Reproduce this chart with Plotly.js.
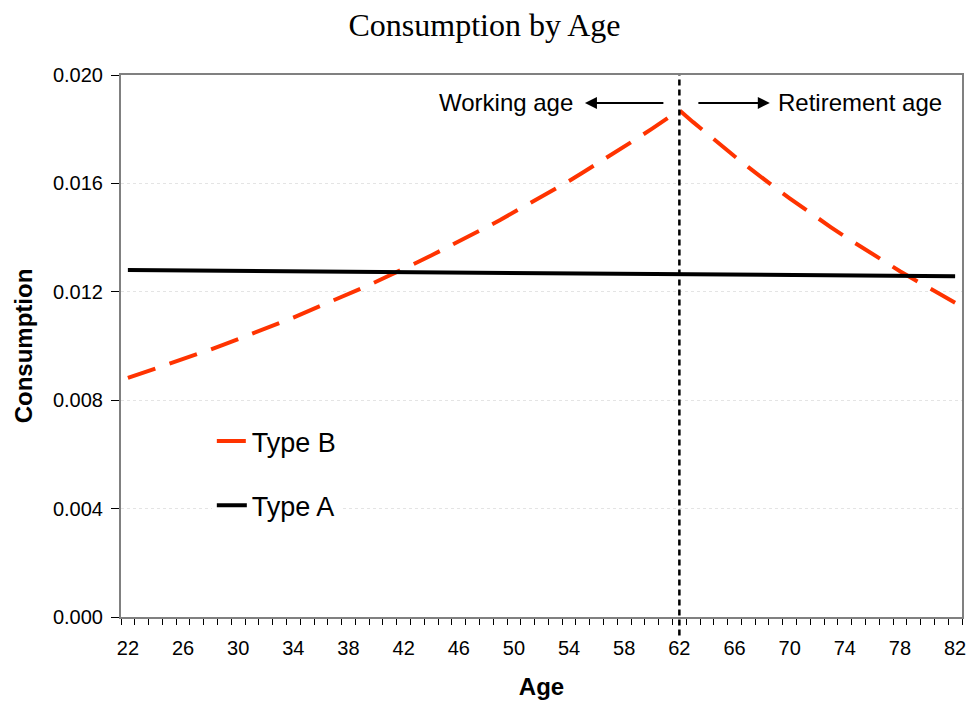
<!DOCTYPE html>
<html>
<head>
<meta charset="utf-8">
<script src="https://cdn.plot.ly/plotly-3.0.1.min.js"></script>
<style>html,body{margin:0;padding:0;background:#fff;}#chart{width:969px;height:705px;}</style>
</head>
<body>
<div id="chart"></div>
<script>
var ages = [22,23,24,25,26,27,28,29,30,31,32,33,34,35,36,37,38,39,40,41,42,43,44,45,46,47,48,49,50,51,52,53,54,55,56,57,58,59,60,61,62,63,64,65,66,67,68,69,70,71,72,73,74,75,76,77,78,79,80,81,82];

var typeB = [0.00882,0.00899,0.00916,0.00933,0.00951,0.00969,0.00987,0.01006,0.01025,0.01045,
             0.01064,0.01085,0.01105,0.01126,0.01147,0.01169,0.01191,0.01214,0.01237,0.01260,
             0.01284,0.01309,0.01334,0.01359,0.01385,0.01411,0.01438,0.01465,0.01493,0.01521,
             0.01550,0.01579,0.01609,0.01640,0.01671,0.01703,0.01735,0.01768,0.01801,0.01836,
             0.01870,0.01826,0.01783,0.01741,0.01700,0.01660,0.01620,0.01582,0.01545,0.01508,
             0.01473,0.01438,0.01404,0.01371,0.01338,0.01307,0.01276,0.01246,0.01216,0.01188,
             0.01160];

var typeA = [0.012800,0.012796,0.012793,0.012789,0.012785,0.012782,0.012778,0.012774,0.012770,0.012767,
             0.012763,0.012759,0.012756,0.012752,0.012748,0.012745,0.012741,0.012737,0.012733,0.012730,
             0.012726,0.012722,0.012719,0.012715,0.012711,0.012708,0.012704,0.012700,0.012696,0.012693,
             0.012689,0.012685,0.012682,0.012678,0.012674,0.012671,0.012667,0.012663,0.012659,0.012656,
             0.012652,0.012648,0.012645,0.012641,0.012637,0.012634,0.012630,0.012626,0.012622,0.012619,
             0.012615,0.012611,0.012608,0.012604,0.012600,0.012597,0.012593,0.012589,0.012585,0.012582,
             0.012578];

var yTicks = [0, 0.004, 0.008, 0.012, 0.016, 0.020];
var yTickText = ["0.000","0.004","0.008","0.012","0.016","0.020"];
var retirementAge = 62;

var sans = "Liberation Sans, Arial, sans-serif";

var traces = [
  {x: ages, y: typeB, type: 'scatter', mode: 'lines', name: 'Type B', legendgroup: 'b',
   line: {color: '#FF3300', width: 4, dash: '29px,15px'}},
  {x: ages, y: typeA, type: 'scatter', mode: 'lines', name: 'Type A', legendgroup: 'a',
   line: {color: '#000000', width: 4}}
];

var layout = {
  width: 969, height: 705,
  paper_bgcolor: '#ffffff', plot_bgcolor: '#ffffff',
  margin: {l: 121, r: 7, t: 75, b: 88},
  title: {text: 'Consumption by Age', x: 0.5, xref: 'container', xanchor: 'center', y: 0.965, yanchor: 'middle',
          font: {family: 'Liberation Serif, Times New Roman, serif', size: 32, color: '#000'}},
  font: {family: sans, color: '#000'},
  showlegend: true,
  legend: {x: 0.108, y: 0.369, xanchor: 'left', yanchor: 'top', bgcolor: '#ffffff',
           font: {family: sans, size: 27, color: '#000'}, tracegroupgap: 26, traceorder: 'grouped'},
  xaxis: {
    range: [21.5, 82.5], tickmode: 'linear', tick0: 22, dtick: 4,
    ticks: '', showgrid: false, zeroline: false, ticklabelstandoff: 12,
    showline: true, linecolor: '#808080', linewidth: 2, mirror: true,
    tickfont: {family: sans, size: 20, color: '#000'},
    minor: {tick0: 21.5, dtick: 1, ticks: 'outside', ticklen: 6, tickcolor: '#000', tickwidth: 1, showgrid: false},
    title: {text: '<b>Age</b>', font: {family: sans, size: 24, color: '#000'}, standoff: 20}
  },
  yaxis: {
    range: [0, 0.020], tickmode: 'array', tickvals: yTicks, ticktext: yTickText,
    ticks: 'outside', ticklen: 8, tickcolor: '#000', tickwidth: 1, ticklabelstandoff: 4,
    showgrid: true, gridcolor: '#e4e4e4', griddash: 'dot', gridwidth: 1,
    zeroline: false, showline: true, linecolor: '#808080', linewidth: 2, mirror: true,
    tickfont: {family: sans, size: 20, color: '#000'},
    title: {text: '<b>Consumption</b>', font: {family: sans, size: 24, color: '#000'}, standoff: 14}
  },
  shapes: [
    {type: 'line', xref: 'x', yref: 'paper', x0: retirementAge, x1: retirementAge, y0: -0.034, y1: 1,
     line: {color: '#000', width: 2.5, dash: '6px,4px'}}
  ],
  annotations: [
    {xref: 'x', yref: 'y', x: 55.15, y: 0.01897, ax: 60.95, ay: 0.01897, axref: 'x', ayref: 'y',
     text: '', showarrow: true, arrowhead: 2, arrowsize: 1.2, arrowwidth: 2, arrowcolor: '#000'},
    {xref: 'x', yref: 'y', x: 68.56, y: 0.01897, ax: 63.27, ay: 0.01897, axref: 'x', ayref: 'y',
     text: '', showarrow: true, arrowhead: 2, arrowsize: 1.2, arrowwidth: 2, arrowcolor: '#000'},
    {xref: 'x', yref: 'y', x: 54.45, y: 0.01897, xanchor: 'right', yanchor: 'middle', showarrow: false,
     text: 'Working age', font: {family: sans, size: 24, color: '#000'}},
    {xref: 'x', yref: 'y', x: 69.0, y: 0.01897, xanchor: 'left', yanchor: 'middle', showarrow: false,
     text: 'Retirement age', font: {family: sans, size: 24, color: '#000'}}
  ]
};

Plotly.newPlot('chart', traces, layout, {displayModeBar: false, staticPlot: true});
</script>
</body>
</html>
